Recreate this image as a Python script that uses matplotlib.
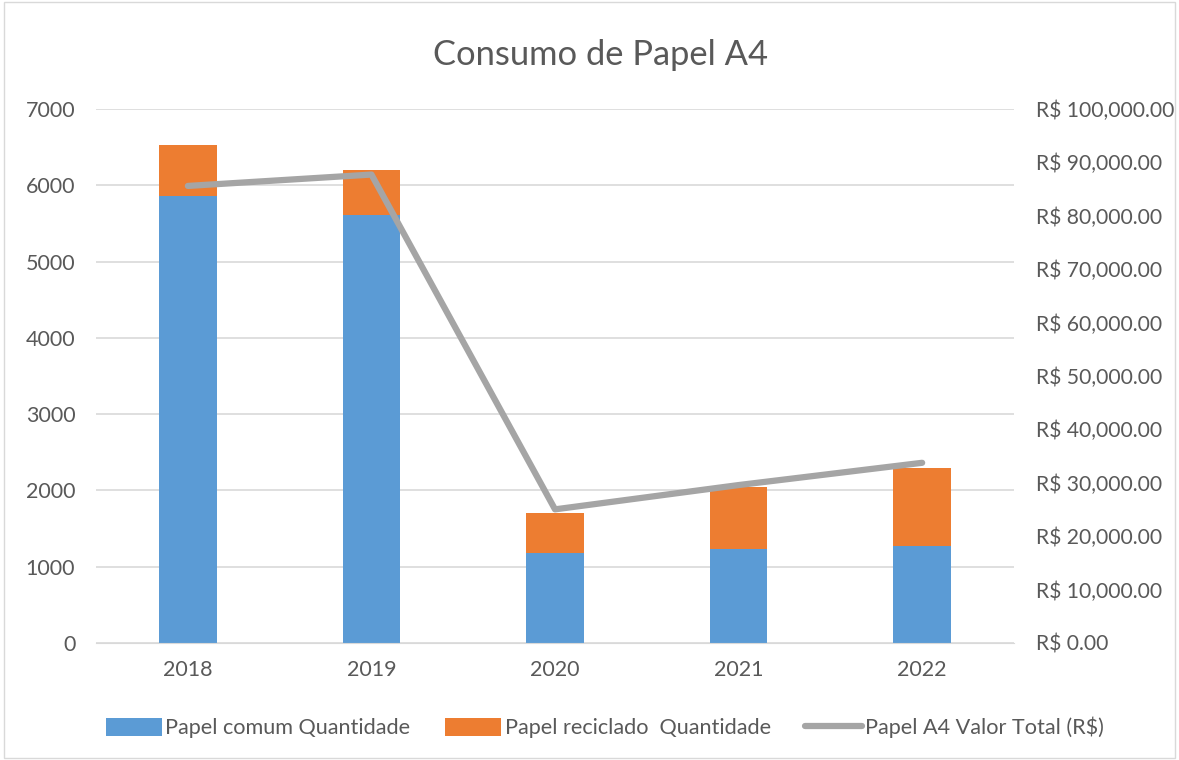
import matplotlib.pyplot as plt
import numpy as np
from matplotlib.patches import Rectangle

# Data
years = ["2018", "2019", "2020", "2021", "2022"]
papel_comum = [5860, 5605, 1176, 1236, 1275]
papel_reciclado = [663, 598, 532, 805, 1019]
valor_total = [85590, 87720, 25020, 29570, 33740]

blue = "#5B9BD5"
orange = "#ED7D31"
gray = "#A5A5A5"
text_color = "#595959"

plt.rcParams['font.family'] = ['Lato', 'DejaVu Sans']

fig = plt.figure(figsize=(11.79, 7.60), dpi=100)
ax = fig.add_axes([0.0815, 0.154, 0.7785, 0.7026])
ax2 = ax.twinx()

x = np.arange(len(years))
w = 0.314
ax.bar(x, papel_comum, width=w, color=blue, label="Papel comum Quantidade", zorder=2)
ax.bar(x, papel_reciclado, width=w, bottom=papel_comum, color=orange,
       label="Papel reciclado  Quantidade", zorder=2)
ax2.plot(x, valor_total, color=gray, linewidth=4.5, solid_capstyle='round',
         label="Papel A4 Valor Total (R$)")

ax.set_xlim(-0.5, len(years) - 0.5)
ax.set_ylim(0, 7000)
ax.set_yticks(range(0, 7001, 1000))
ax2.set_ylim(0, 100000)
ax2.set_yticks(range(0, 100001, 10000))
ax2.set_yticklabels([f"R$ {v:,.2f}" for v in range(0, 100001, 10000)])
ax.set_xticks(x)
ax.set_xticklabels(years)

ax.grid(axis='y', color="#D9D9D9", linewidth=1.2, zorder=0)
ax.set_axisbelow(True)
for a in (ax, ax2):
    for s in a.spines.values():
        s.set_visible(False)
    a.tick_params(length=0, colors=text_color, labelsize=15.5)
ax2.tick_params(labelsize=15.2)
ax.spines['bottom'].set_visible(True)
ax.spines['bottom'].set_color("#D9D9D9")
ax.tick_params(axis='y', pad=15)
ax.tick_params(axis='x', pad=12)
ax2.tick_params(axis='y', pad=16)

fig.text(0.509, 0.928, "Consumo de Papel A4", ha='center', va='center',
         fontsize=24.8, color=text_color)

h1, l1 = ax.get_legend_handles_labels()
h2, l2 = ax2.get_legend_handles_labels()
fig.legend(h1 + h2, l1 + l2, loc='center', bbox_to_anchor=(0.513, 0.043), ncol=3,
           frameon=False, fontsize=15.6, labelcolor=text_color, handlelength=2.6,
           handleheight=0.9, handletextpad=0.15, columnspacing=1.6)

fig.patches.append(Rectangle((0.003, 0.003), 0.994, 0.994, transform=fig.transFigure,
                             fill=False, edgecolor="#D9D9D9", linewidth=1))

fig.savefig("out.png", dpi=100)
